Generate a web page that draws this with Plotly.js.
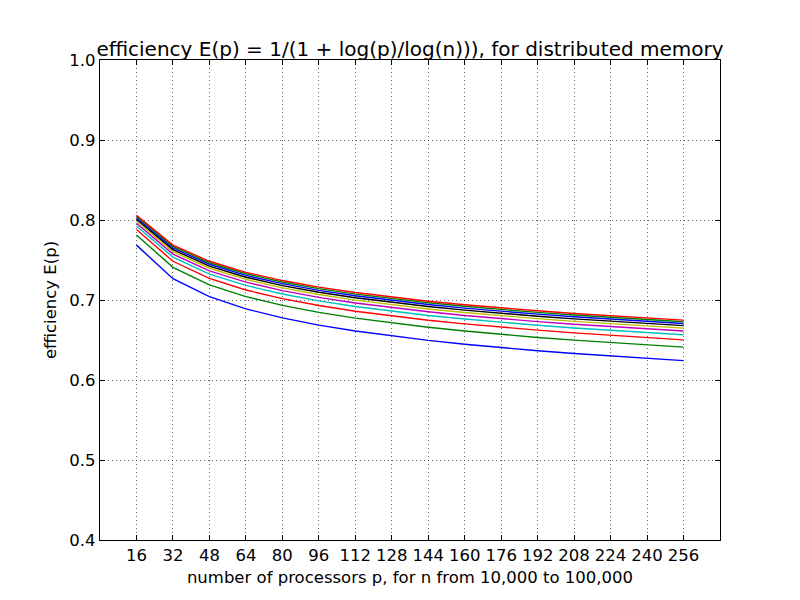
<!DOCTYPE html>
<html>
<head>
<meta charset="utf-8">
<script src="https://cdn.plot.ly/plotly-3.0.1.min.js"></script>
<style>html,body{margin:0;padding:0;background:#fff;}#chart{width:800px;height:600px;}</style>
</head>
<body>
<div id="chart"></div>
<script>
const processors = [16, 32, 48, 64, 80, 96, 112, 128, 144, 160, 176, 192, 208, 224, 240, 256];
const nValues = ["10,000", "20,000", "30,000", "40,000", "50,000", "60,000", "70,000", "80,000", "90,000", "100,000"];
const lineColors = ["#0000ff", "#008000", "#ff0000", "#00bfbf", "#bf00bf", "#bfbf00", "#000000", "#0000ff", "#008000", "#ff0000"];

const eff10000 = [0.7686, 0.7266, 0.7041, 0.6889, 0.6776, 0.6686, 0.6612, 0.6550, 0.6495, 0.6447, 0.6405, 0.6366, 0.6331, 0.6299, 0.6269, 0.6242];
const eff20000 = [0.7813, 0.7408, 0.7190, 0.7043, 0.6933, 0.6845, 0.6773, 0.6712, 0.6659, 0.6612, 0.6570, 0.6532, 0.6498, 0.6467, 0.6438, 0.6411];
const eff30000 = [0.7881, 0.7484, 0.7270, 0.7125, 0.7017, 0.6931, 0.6860, 0.6800, 0.6747, 0.6701, 0.6660, 0.6623, 0.6589, 0.6558, 0.6529, 0.6502];
const eff40000 = [0.7926, 0.7536, 0.7324, 0.7182, 0.7075, 0.6989, 0.6919, 0.6859, 0.6807, 0.6762, 0.6721, 0.6684, 0.6650, 0.6620, 0.6591, 0.6565];
const eff50000 = [0.7960, 0.7574, 0.7365, 0.7224, 0.7117, 0.7033, 0.6963, 0.6904, 0.6853, 0.6807, 0.6767, 0.6730, 0.6697, 0.6666, 0.6638, 0.6612];
const eff60000 = [0.7987, 0.7605, 0.7397, 0.7257, 0.7152, 0.7068, 0.6999, 0.6940, 0.6888, 0.6843, 0.6803, 0.6767, 0.6733, 0.6703, 0.6675, 0.6649];
const eff70000 = [0.8009, 0.7630, 0.7424, 0.7285, 0.7180, 0.7097, 0.7028, 0.6969, 0.6918, 0.6873, 0.6833, 0.6797, 0.6764, 0.6734, 0.6706, 0.6680];
const eff80000 = [0.8028, 0.7651, 0.7447, 0.7308, 0.7204, 0.7121, 0.7053, 0.6994, 0.6944, 0.6899, 0.6859, 0.6823, 0.6790, 0.6760, 0.6732, 0.6706];
const eff90000 = [0.8045, 0.7670, 0.7466, 0.7328, 0.7225, 0.7142, 0.7074, 0.7016, 0.6965, 0.6921, 0.6881, 0.6845, 0.6813, 0.6783, 0.6755, 0.6729];
const eff100000 = [0.8059, 0.7686, 0.7484, 0.7346, 0.7243, 0.7161, 0.7093, 0.7035, 0.6985, 0.6941, 0.6901, 0.6865, 0.6832, 0.6803, 0.6775, 0.6749];

const seriesValues = [eff10000, eff20000, eff30000, eff40000, eff50000, eff60000, eff70000, eff80000, eff90000, eff100000];
const yTicks = [0.4, 0.5, 0.6, 0.7, 0.8, 0.9, 1.0];
const yTickText = ["0.4", "0.5", "0.6", "0.7", "0.8", "0.9", "1.0"];

const traces = seriesValues.map((vals, i) => ({
  x: processors,
  y: vals,
  type: 'scatter',
  mode: 'lines',
  name: 'n = ' + nValues[i],
  line: {color: lineColors[i], width: 1.4},
  hoverinfo: 'x+y'
}));

const font = {family: 'DejaVu Sans, sans-serif', color: '#000', size: 16.5};

const layout = {
  width: 800, height: 600,
  paper_bgcolor: '#fff', plot_bgcolor: '#fff',
  showlegend: false,
  font: font,
  margin: {l: 100, r: 80, t: 60, b: 60, pad: 0},
  title: {
    text: 'efficiency E(p) = 1/(1 + log(p)/log(n))), for distributed memory',
    font: {family: 'DejaVu Sans, sans-serif', size: 20, color: '#000'},
    x: 0.5, xanchor: 'center', xref: 'paper',
    y: 1, yanchor: 'bottom', yref: 'paper',
    pad: {b: 4}
  },
  xaxis: {
    range: [0, 272],
    tickvals: processors,
    ticktext: processors.map(String),
    ticks: 'inside', ticklen: 5, tickwidth: 1, tickcolor: '#000',
    showline: true, linecolor: '#000', linewidth: 1.2, mirror: 'ticks',
    showgrid: true, gridcolor: '#000', gridwidth: 0.6, griddash: '1px,3px',
    zeroline: false,
    tickfont: font,
    title: {text: 'number of processors p, for n from 10,000 to 100,000', font: font, standoff: 7}
  },
  yaxis: {
    range: [0.4, 1.0],
    tickvals: yTicks,
    ticktext: yTickText,
    ticks: 'inside', ticklen: 5, tickwidth: 1, tickcolor: '#000',
    showline: true, linecolor: '#000', linewidth: 1.2, mirror: 'ticks',
    showgrid: true, gridcolor: '#000', gridwidth: 0.6, griddash: '1px,3px',
    zeroline: false,
    tickfont: font,
    title: {text: 'efficiency E(p)', font: font, standoff: 8}
  }
};

Plotly.newPlot('chart', traces, layout, {displayModeBar: false, staticPlot: true});
</script>
</body>
</html>
